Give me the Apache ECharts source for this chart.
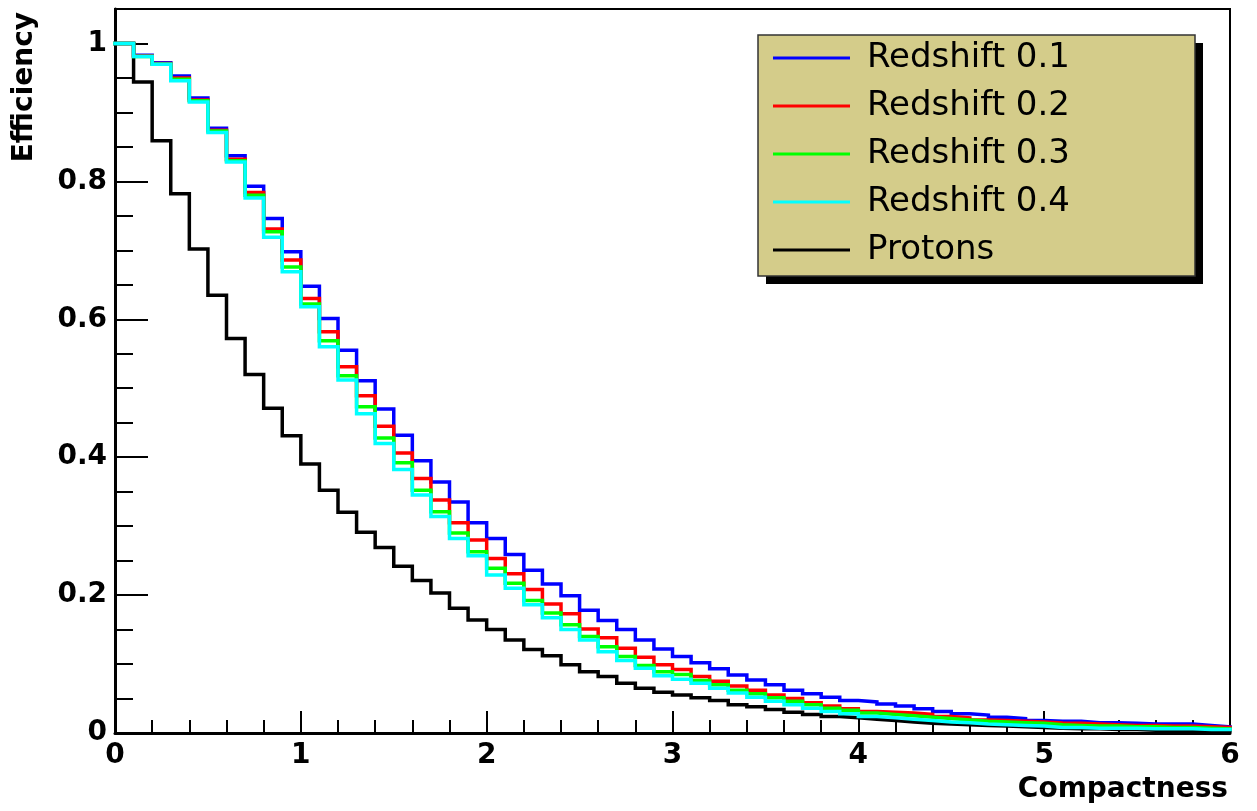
<!DOCTYPE html>
<html>
<head>
<meta charset="utf-8">
<title>Efficiency vs Compactness</title>
<script src="https://cdn.jsdelivr.net/npm/echarts@6/dist/echarts.min.js"></script>
<style>
html, body { margin: 0; padding: 0; background: #fff; }
#main { width: 1257px; height: 811px; }
</style>
</head>
<body>
<div id="main"></div>
<script>
// histogram bins: 60 bins of width 0.1 from 0 to 6
var binWidth = 0.1;
var xTickLabels = ['0', '1', '2', '3', '4', '5', '6'];
var yTickLabels = ['0', '0.2', '0.4', '0.6', '0.8', '1'];

var redshift01 = [1.000, 0.983, 0.972, 0.953, 0.921, 0.877, 0.837, 0.793, 0.746, 0.698,
	0.648, 0.601, 0.555, 0.511, 0.470, 0.432, 0.395, 0.364, 0.335, 0.305,
	0.282, 0.259, 0.236, 0.216, 0.199, 0.178, 0.163, 0.150, 0.135, 0.122,
	0.111, 0.102, 0.093, 0.084, 0.077, 0.070, 0.062, 0.057, 0.052, 0.047,
	0.045, 0.042, 0.039, 0.035, 0.031, 0.028, 0.026, 0.023, 0.021, 0.018,
	0.017, 0.017, 0.015, 0.015, 0.014, 0.013, 0.013, 0.013, 0.011, 0.009];
var redshift02 = [1.000, 0.982, 0.971, 0.950, 0.918, 0.874, 0.832, 0.784, 0.731, 0.686,
	0.630, 0.582, 0.531, 0.489, 0.445, 0.406, 0.369, 0.338, 0.305, 0.280,
	0.253, 0.231, 0.208, 0.187, 0.173, 0.151, 0.138, 0.123, 0.110, 0.099,
	0.092, 0.082, 0.075, 0.068, 0.062, 0.055, 0.050, 0.044, 0.039, 0.035,
	0.031, 0.030, 0.029, 0.027, 0.024, 0.022, 0.019, 0.018, 0.017, 0.016,
	0.0145, 0.014, 0.013, 0.012, 0.011, 0.011, 0.010, 0.010, 0.009, 0.008];
var redshift03 = [1.000, 0.981, 0.970, 0.948, 0.917, 0.873, 0.830, 0.780, 0.727, 0.676,
	0.622, 0.569, 0.518, 0.473, 0.428, 0.392, 0.352, 0.321, 0.290, 0.263,
	0.239, 0.217, 0.192, 0.174, 0.157, 0.140, 0.125, 0.111, 0.098, 0.089,
	0.085, 0.076, 0.070, 0.062, 0.057, 0.051, 0.046, 0.041, 0.036, 0.033,
	0.029, 0.027, 0.025, 0.023, 0.021, 0.019, 0.017, 0.016, 0.015, 0.014,
	0.012, 0.011, 0.010, 0.010, 0.009, 0.009, 0.008, 0.008, 0.007, 0.006];
var redshift04 = [1.000, 0.981, 0.970, 0.946, 0.915, 0.871, 0.828, 0.776, 0.719, 0.669,
	0.618, 0.560, 0.512, 0.463, 0.420, 0.382, 0.345, 0.314, 0.282, 0.257,
	0.229, 0.210, 0.186, 0.167, 0.150, 0.135, 0.118, 0.105, 0.094, 0.083,
	0.078, 0.072, 0.065, 0.058, 0.052, 0.046, 0.041, 0.036, 0.031, 0.028,
	0.024, 0.022, 0.020, 0.018, 0.016, 0.015, 0.013, 0.012, 0.011, 0.010,
	0.008, 0.008, 0.007, 0.007, 0.007, 0.006, 0.006, 0.006, 0.005, 0.005];
var protons = [1.000, 0.944, 0.859, 0.782, 0.702, 0.635, 0.572, 0.520, 0.471, 0.431,
	0.390, 0.352, 0.320, 0.291, 0.269, 0.242, 0.221, 0.203, 0.181, 0.164,
	0.150, 0.135, 0.121, 0.112, 0.099, 0.089, 0.082, 0.072, 0.065, 0.059,
	0.055, 0.051, 0.047, 0.041, 0.038, 0.034, 0.030, 0.027, 0.024, 0.022,
	0.020, 0.018, 0.016, 0.014, 0.013, 0.012, 0.011, 0.010, 0.009, 0.008,
	0.007, 0.006, 0.006, 0.005, 0.005, 0.004, 0.004, 0.003, 0.003, 0.003];

var names = ['Redshift 0.1', 'Redshift 0.2', 'Redshift 0.3', 'Redshift 0.4', 'Protons'];
var colors = ['#0000ff', '#ff0000', '#00ff00', '#00ffff', '#000000'];

// bin contents -> step points (left edges + closing right edge)
function toSteps(values) {
	var pts = values.map(function(v, i) {
		return [+(i * binWidth).toFixed(3), v];
	});
	pts.push([+(values.length * binWidth).toFixed(3), values[values.length - 1]]);
	return pts;
}

function histSeries(name, values, color, z) {
	return {
		name: name,
		type: 'line',
		step: 'end',
		showSymbol: false,
		color: color,
		z: z,
		lineStyle: { color: color, width: 3.5, cap: 'square', join: 'miter' },
		data: toSteps(values)
	};
}

var font = 'DejaVu Sans';
var myChart = echarts.init(document.getElementById('main'));

var option = {
	animation: false,
	backgroundColor: '#ffffff',
	grid: {
		left: 115, right: 27, top: 9, bottom: 78,
		show: true, borderColor: '#000', borderWidth: 2
	},
	xAxis: {
		type: 'value',
		min: 0, max: 6, interval: 1,
		axisLine: { show: true, onZero: false, lineStyle: { color: '#000', width: 3 } },
		axisTick: { show: true, inside: true, length: 22, lineStyle: { color: '#000', width: 2 } },
		minorTick: { show: true, splitNumber: 5, length: 13, lineStyle: { color: '#000', width: 2 } },
		splitLine: { show: false },
		axisLabel: {
			margin: 9, color: '#000', fontFamily: font, fontWeight: 'bold', fontSize: 28,
			formatter: function(v) {
				var s = String(Math.round(v));
				return xTickLabels.indexOf(s) >= 0 ? s : '';
			}
		}
	},
	yAxis: [{
		type: 'value',
		min: 0, max: 1.05, interval: 0.2,
		position: 'left',
		axisLine: { show: true, onZero: false, lineStyle: { color: '#000', width: 3 } },
		axisTick: { show: true, inside: true, length: 33, lineStyle: { color: '#000', width: 2 } },
		splitLine: { show: false },
		axisLabel: {
			margin: 8, color: '#000', fontFamily: font, fontWeight: 'bold', fontSize: 28,
			showMaxLabel: false,
			formatter: function(v) {
				var s = String(+v.toFixed(2));
				return yTickLabels.indexOf(s) >= 0 ? s : '';
			}
		}
	}, {
		// minor ticks every 0.05
		type: 'value',
		min: 0, max: 1.05, interval: 0.05,
		position: 'left', offset: 0,
		axisLine: { show: false },
		axisTick: { show: true, inside: true, length: 18, lineStyle: { color: '#000', width: 2 } },
		splitLine: { show: false },
		axisLabel: { show: false }
	}],
	legend: {
		orient: 'vertical',
		left: 773, top: 34,
		padding: 0,
		itemGap: 0,
		itemWidth: 77, itemHeight: 3,
		icon: 'rect',
		z: 100,
		data: names,
		textStyle: { fontFamily: font, fontSize: 34, color: '#000', lineHeight: 48, padding: [0, 0, 0, 12] }
	},
	graphic: [
		{ type: 'rect', z: 50, shape: { x: 766, y: 43, width: 437, height: 241 }, style: { fill: '#000' } },
		{ type: 'rect', z: 51, shape: { x: 758, y: 35, width: 437, height: 241 },
			style: { fill: '#d4cc8a', stroke: '#333', lineWidth: 1.5 } },
		{ type: 'text', x: 1228, y: 790, z: 60,
			style: { text: 'Compactness', fill: '#000', font: 'bold 28px "DejaVu Sans"', textAlign: 'right', textVerticalAlign: 'middle' } },
		{ type: 'text', x: 25, y: 12, rotation: Math.PI / 2, z: 60,
			style: { text: 'Efficiency', fill: '#000', font: 'bold 28px "DejaVu Sans"', textAlign: 'right', textVerticalAlign: 'middle' } }
	],
	series: [
		histSeries(names[0], redshift01, colors[0], 3),
		histSeries(names[1], redshift02, colors[1], 4),
		histSeries(names[2], redshift03, colors[2], 5),
		histSeries(names[4], protons, colors[4], 2),
		histSeries(names[3], redshift04, colors[3], 6)
	]
};

myChart.setOption(option);
</script>
</body>
</html>
